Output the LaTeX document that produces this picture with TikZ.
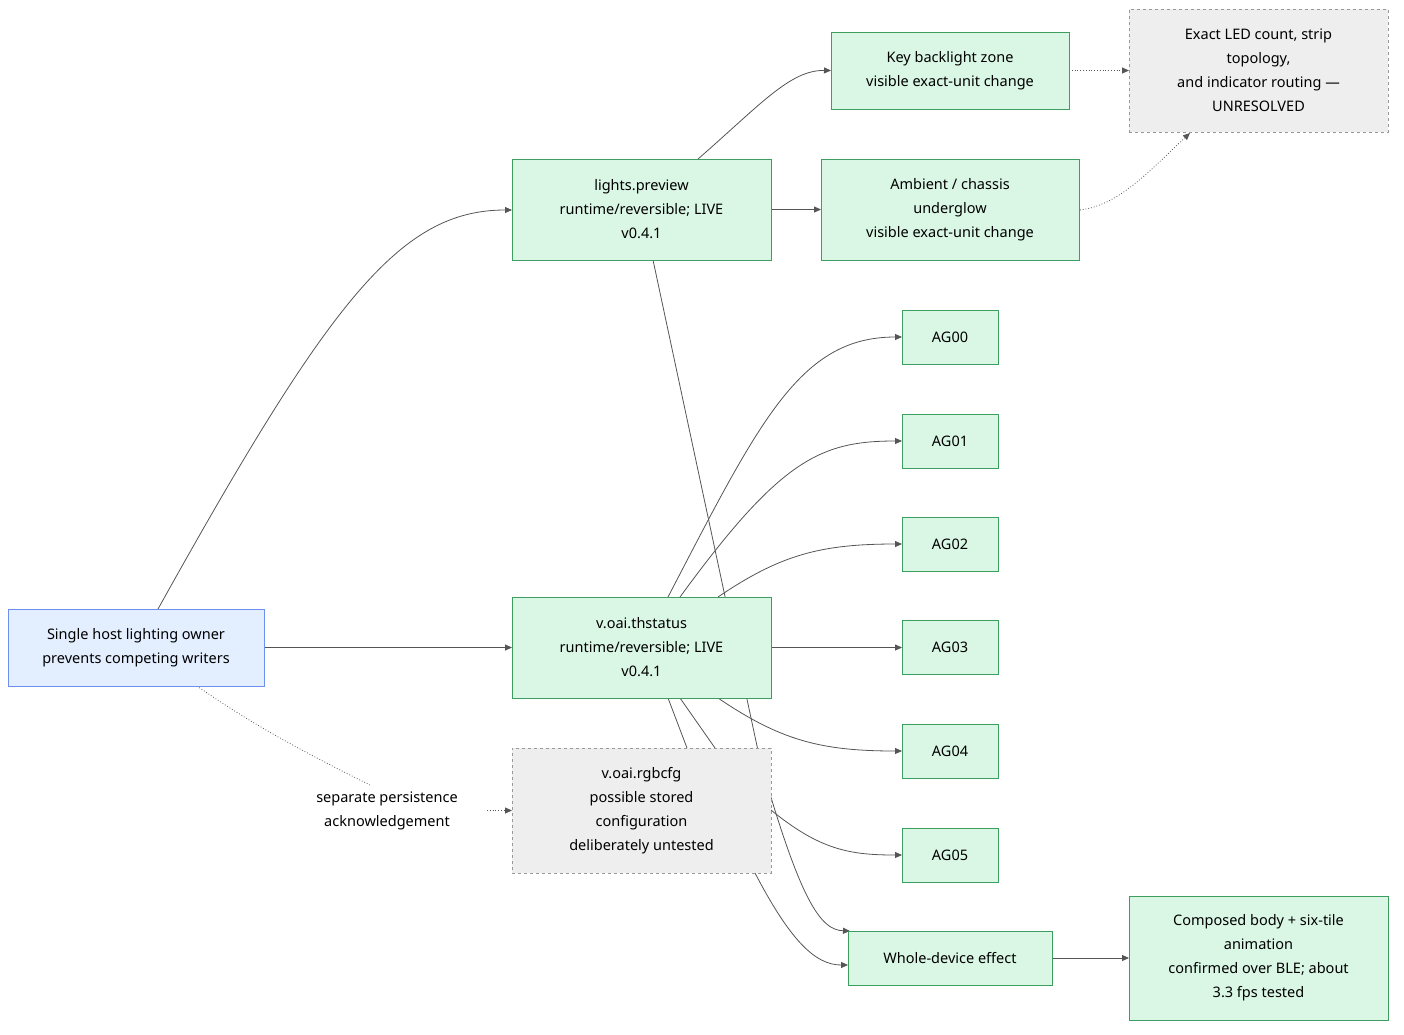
\documentclass[tikz,border=0pt]{standalone}
\usepackage{fontspec}
\setmainfont{Noto Sans}
\usepackage{xcolor}
\usepackage{tikz}
\usetikzlibrary{arrows.meta}
\usetikzlibrary{positioning}
\definecolor{livefill}{HTML}{DAF7E5}
\definecolor{liveline}{HTML}{3C9E5F}
\definecolor{grayfill}{HTML}{EEEEEE}
\definecolor{grayline}{HTML}{999999}
\definecolor{hostfill}{HTML}{E3EEFF}
\definecolor{hostline}{HTML}{6D8FEF}
\definecolor{edge}{HTML}{555555}
\tikzset{>={Triangle[length=7pt,width=6pt]}}
\tikzset{
  live/.style = {rectangle, draw=liveline, fill=livefill, line width=0.9pt, align=center, inner sep=0pt},
  open/.style = {rectangle, draw=grayline, fill=grayfill, dashed, line width=0.9pt, align=center, inner sep=0pt},
  host/.style = {rectangle, draw=hostline, fill=hostfill, line width=0.9pt, align=center, inner sep=0pt},
  link/.style = {->, draw=edge, line width=0.8pt},
  soft/.style = {->, draw=edge, line width=0.8pt, dotted},
}
\begin{document}
\begin{tikzpicture}[x=1pt, y=-1pt, font=\fontsize{14.5}{24}\selectfont]
\useasboundingbox (0, 0) rectangle (1404, 1034);
% connectors first, boxes drawn on top
\coordinate (r0) at (687, 748);
\coordinate (r1) at (715, 748);
\draw [link] (158, 609) .. controls (330, 300) and (400, 210) .. (512, 210);
\draw [link] (264, 647.5) -- (512, 647.5);
\draw [draw=edge, line width=0.8pt, dotted] (197, 686) .. controls (260, 730) and (320, 760) .. (370, 785);
\draw [soft] (487, 810.5) -- (512, 810.5);
\draw [link] (698, 159) .. controls (760, 105) and (790, 70) .. (831, 70.5);
\draw [link] (771, 209.5) -- (821, 209.5);
\draw [link] (653, 260) -- (760, 760) .. controls (800, 900) and (820, 930) .. (850, 931);
\draw [soft] (1069, 70.5) -- (1129, 70.5);
\draw [soft] (1080, 210) .. controls (1120, 205) and (1150, 170) .. (1190, 133);
\draw [link] (r0) -- (668, 698) -- (668, 597) .. controls (760, 420) and (800, 337) .. (902, 337);
\draw [link] (r1) -- (680, 698) -- (680, 597) .. controls (780, 460) and (820, 441) .. (902, 441);
\draw [link] (718, 597) .. controls (780, 555) and (820, 544) .. (902, 544);
\draw [link] (771, 647.5) -- (902, 647.5);
\draw [link] (718, 698) .. controls (780, 740) and (820, 751) .. (902, 751);
\draw [link] (771, 810) .. controls (820, 850) and (850, 855) .. (902, 855);
\draw [link] (755, 873) .. controls (790, 940) and (815, 965) .. (848, 965);
\draw [link] (1052, 958) -- (1129, 958);
% boxes
\node [host, minimum width=256, minimum height=77] (Host) at (136, 647.5) {Single host lighting owner\\prevents competing writers};
\node [live, minimum width=259, minimum height=101] (Preview) at (641.5, 209.5) {lights.preview\\runtime/reversible; LIVE\\v0.4.1};
\node [live, minimum width=238, minimum height=77] (Keys) at (950, 70.5) {Key backlight zone\\visible exact-unit change};
\node [live, minimum width=258, minimum height=101] (Ambient) at (950, 209.5) {Ambient / chassis\\underglow\\visible exact-unit change};
\node [open, minimum width=259, minimum height=123] (Exact) at (1258.5, 70.5) {Exact LED count, strip\\topology,\\and indicator routing —\\UNRESOLVED};
\node [live, minimum width=259, minimum height=101] (Status) at (641.5, 647.5) {v.oai.thstatus\\runtime/reversible; LIVE\\v0.4.1};
\node [open, minimum width=259, minimum height=125] (Rgb) at (641.5, 810.5) {v.oai.rgbcfg\\possible stored\\configuration\\deliberately untested};
\foreach \i/\y in {0/337, 1/441, 2/544, 3/647.5, 4/751, 5/855}
  \node [live, minimum width=96, minimum height=54] (AG\i) at (950, \y) {AG0\i};
\node [live, minimum width=204, minimum height=54] (Whole) at (950, 958) {Whole-device effect};
\node [live, minimum width=259, minimum height=124] (Composed) at (1258.5, 958) {Composed body + six-tile\\animation\\confirmed over BLE; about\\3.3 fps tested};
\node [align=center, inner sep=0pt] (Persist) at (387, 810.5) {separate persistence\\acknowledgement};
\end{tikzpicture}
\end{document}
